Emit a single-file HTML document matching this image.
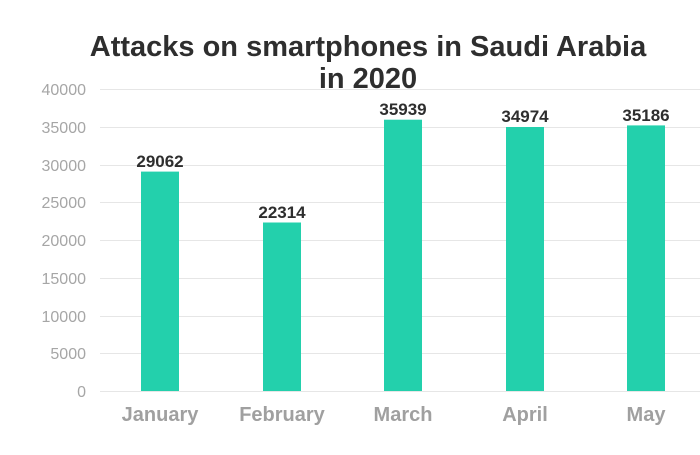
<!DOCTYPE html>
<html><head><style>body{margin:0;background:#fff}</style></head><body>
<svg width="700" height="450" xmlns="http://www.w3.org/2000/svg" font-family="Liberation Sans, Arial, sans-serif">
<rect width="700" height="450" fill="#fff"/>
<text x="368" y="56" text-anchor="middle" font-size="29" font-weight="bold" fill="#2e2e2e">Attacks on smartphones in Saudi Arabia</text>
<text x="368" y="88" text-anchor="middle" font-size="29" font-weight="bold" fill="#2e2e2e">in 2020</text>
<g stroke="#e6e6e6" stroke-width="1">
<line x1="100" x2="700" y1="89.5" y2="89.5"/><line x1="100" x2="700" y1="127.5" y2="127.5"/>
<line x1="100" x2="700" y1="165.5" y2="165.5"/><line x1="100" x2="700" y1="202.5" y2="202.5"/>
<line x1="100" x2="700" y1="240.5" y2="240.5"/><line x1="100" x2="700" y1="278.5" y2="278.5"/>
<line x1="100" x2="700" y1="316.5" y2="316.5"/><line x1="100" x2="700" y1="353.5" y2="353.5"/>
<line x1="100" x2="700" y1="391.5" y2="391.5"/>
</g>
<g font-size="16" fill="#a6a6a6" text-anchor="end">
<text x="86" y="95">40000</text><text x="86" y="133">35000</text><text x="86" y="171">30000</text>
<text x="86" y="208">25000</text><text x="86" y="246">20000</text><text x="86" y="284">15000</text>
<text x="86" y="322">10000</text><text x="86" y="359">5000</text><text x="86" y="397">0</text>
</g>
<g fill="#23d0ac">
<rect x="141" y="171.6" width="38" height="219.4"/>
<rect x="263" y="222.5" width="38" height="168.5"/>
<rect x="384" y="119.7" width="38" height="271.3"/>
<rect x="506" y="127" width="38" height="264"/>
<rect x="627" y="125.4" width="38" height="265.6"/>
</g>
<g font-size="17" font-weight="bold" fill="#2e2e2e" text-anchor="middle">
<text x="160" y="167">29062</text><text x="282" y="218">22314</text><text x="403" y="115">35939</text>
<text x="525" y="122">34974</text><text x="646" y="121">35186</text>
</g>
<g font-size="20" font-weight="bold" fill="#a0a0a0" text-anchor="middle">
<text x="160" y="421">January</text><text x="282" y="421">February</text><text x="403" y="421">March</text>
<text x="525" y="421">April</text><text x="646" y="421">May</text>
</g>
</svg>
</body></html>
